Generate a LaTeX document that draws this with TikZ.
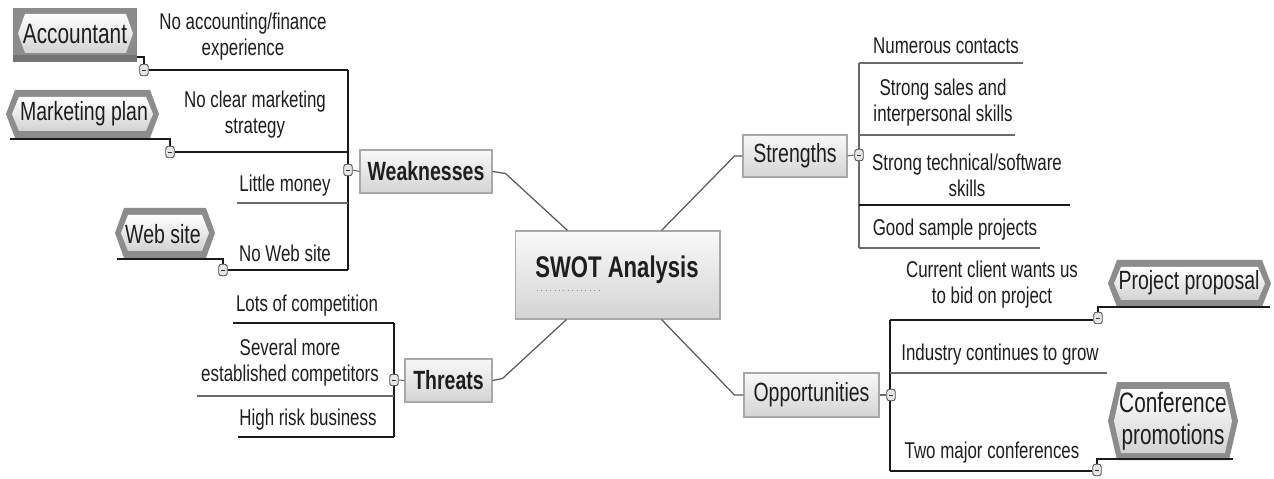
\documentclass[tikz,border=0pt]{standalone}
\usepackage{fontspec}
\setmainfont{Liberation Sans}[FakeStretch=0.74]
\usetikzlibrary{calc}
\definecolor{ink}{HTML}{1E1E1E}
\definecolor{dkline}{HTML}{1A1A1A}
\definecolor{ltline}{HTML}{6A6A6A}
\definecolor{boxedge}{HTML}{A8A8A8}
\definecolor{boxtop}{HTML}{F8F8F8}
\definecolor{boxbot}{HTML}{D4D4D4}
\definecolor{cframe}{HTML}{8C8C8C}
\definecolor{cinner}{HTML}{D2D2D2}
\definecolor{knobfill}{HTML}{E6E6E6}

% hexagonal label plate with pointed left and right ends
\newcommand\hexplate[6]{%
  \pgfmathsetmacro\ymid{(#2+#4)/2}%
  \path[#6] (#1+#5,#2) -- (#3-#5,#2) -- (#3,\ymid) -- (#3-#5,#4)
            -- (#1+#5,#4) -- (#1,\ymid) -- cycle;}

\begin{document}
\begin{tikzpicture}[x=0.02cm,y=-0.02cm,
  every node/.style={text=ink, inner sep=0pt},
  item/.style={align=center, font=\fontsize{13}{14.7}\selectfont},
  topic/.style={draw=boxedge, line width=0.6pt, top color=boxtop, bottom color=boxbot,
                font=\fontsize{15}{17}\selectfont},
  call/.style={align=center, font=\fontsize{15}{18}\selectfont},
  bigcall/.style={align=center, font=\fontsize{16}{18}\selectfont},
  knob/.style={draw=black!70, fill=knobfill, rounded corners=1.5pt, line width=0.5pt,
               minimum width=0.17cm, minimum height=0.23cm,
               path picture={\draw[black!80, line width=0.5pt]
                 ([xshift=-1.4pt]path picture bounding box.center) --
                 ([xshift=1.4pt]path picture bounding box.center);}},
  dk/.style={draw=dkline, line width=1.1pt},
  lt/.style={draw=ltline, line width=0.6pt},
  branch/.style={draw=black!65, line width=0.7pt},
  frame/.style={fill=cframe},
  plate/.style={top color=white, bottom color=cinner},
]
\useasboundingbox[fill=white] (0,0) rectangle (1274,479);

% ---------- central topic ----------
\node[topic, minimum width=4.10cm, minimum height=1.76cm] (C) at (617.5,275) {};
\node[font=\fontsize{17}{20}\selectfont\bfseries] (Ct) at (617,270) {SWOT Analysis};
\draw[black!45, line width=0.5pt, dotted] (537,290) -- (602,290);

% ---------- main topics ----------
\node[topic, font=\fontsize{15}{17}\selectfont\bfseries, minimum width=2.64cm, minimum height=0.86cm] (W) at (426,171.5) {Weaknesses};
\node[topic, font=\fontsize{15}{17}\selectfont\bfseries, minimum width=1.74cm, minimum height=0.86cm] (T) at (448.5,380.5) {Threats};
\node[topic, minimum width=2.08cm, minimum height=0.84cm] (S) at (795,156) {Strengths};
\node[topic, minimum width=2.70cm, minimum height=0.88cm] (O) at (811.5,395) {Opportunities};

\draw[branch] (W.east) -- ++(13,2) -- ($(C.north west)+(53,0)$);
\draw[branch] (S.west) -- ++(-8,0) -- ($(C.north west)+(147,0)$);
\draw[branch] (T.east) -- ++(10,-2) -- ($(C.south west)+(52,0)$);
\draw[branch] (O.west) -- ++(-9,0) -- ($(C.south west)+(147,0)$);

% ---------- Weaknesses ----------
\coordinate (wa) at (348,70);
\coordinate (wb) at (348,152);
\coordinate (wc) at (348,203);
\coordinate (wd) at (348,270);
\draw[dk] (wa) -- (wd);
\node[knob] (kW) at (348,170) {};
\draw[lt] (kW.east) -- (W.west);

\node[item] (w1) at (243,37) {No accounting/finance\\experience};
\node[item] (w2) at (255,115) {No clear marketing\\strategy};
\node[item] (w3) at (285,186) {Little money};
\node[item] (w4) at (285,253) {No Web site};

\node[knob] (kA) at (144,70) {};
\node[knob] (kM) at (170,152) {};
\node[knob] (kWb) at (223,270) {};
\draw[dk] (kA.east) -- (wa);
\draw[dk] (kM.east) -- (wb);
\draw[lt] (237,203) -- (wc);
\draw[dk] (kWb.east) -- (wd);

% callout plates
\fill[cframe] (13,8) rectangle (137,62);
\fill[black!55] (13,55) rectangle (137,62);
\hexplate{18}{14}{133}{53}{7}{plate}
\node[bigcall] (acc) at (75,34) {Accountant};
\draw[dk] (137,57) -| (kA.north);

\hexplate{6}{90}{159}{138}{9}{frame}
\hexplate{12}{97}{153}{131}{7}{plate}
\node[call] (mkt) at (84,114) {Marketing plan};
\draw[dk] (10,139) -| (kM.north);

\hexplate{115}{208}{215}{258}{9}{frame}
\hexplate{121}{215}{209}{251}{7}{plate}
\node[call] (web) at (163,234) {Web site};
\draw[dk] (117,259) -| (kWb.north);

% ---------- Threats ----------
\coordinate (ta) at (394,323);
\coordinate (tb) at (394,396);
\coordinate (tc) at (394,437);
\draw[dk] (ta) -- (tc);
\node[knob] (kT) at (394,380) {};
\draw[lt] (kT.east) -- (T.west);

\node[item] (t1) at (307,306) {Lots of competition};
\node[item] (t2) at (290,363) {Several more\\established competitors};
\node[item] (t3) at (308,420) {High risk business};
\draw[dk] (233,323) -- (ta);
\draw[lt] (197,396) -- (tb);
\draw[dk] (238,437) -- (tc);

% ---------- Strengths ----------
\coordinate (sa) at (859,63);
\coordinate (sb) at (859,135);
\coordinate (sc) at (859,205);
\coordinate (sd) at (859,248);
\draw[lt] (sa) -- (sd);
\node[knob] (kS) at (859,155) {};
\draw[lt] (S.east) -- (kS.west);

\node[item] (s1) at (946,46) {Numerous contacts};
\node[item] (s2) at (943,103) {Strong sales and\\interpersonal skills};
\node[item] (s3) at (967,175) {Strong technical/software\\skills};
\node[item] (s4) at (955,230) {Good sample projects};
\draw[lt] (sa) -- (1023,63);
\draw[lt] (sb) -- (1015,135);
\draw[dk] (sc) -- (1070,205);
\draw[lt] (sd) -- (1040,248);

% ---------- Opportunities ----------
\coordinate (oa) at (890,320);
\coordinate (ob) at (890,373);
\coordinate (oc) at (890,471);
\draw[dk] (oa) -- (oc);
\node[knob] (kO) at (891,395) {};
\draw[lt] (O.east) -- (kO.west);

\node[item] (o1) at (992,285) {Current client wants us\\to bid on project};
\node[item] (o2) at (1000,355) {Industry continues to grow};
\node[item] (o3) at (992,453) {Two major conferences};

\node[knob] (kP) at (1098,318) {};
\node[knob] (kC) at (1097,470) {};
\draw[dk] (oa) -- (kP.west |- oa);
\draw[lt] (ob) -- (1107,373);
\draw[dk] (oc) -- (kC.west |- oc);

\hexplate{1108}{260}{1271}{307}{9}{frame}
\hexplate{1114}{267}{1265}{300}{7}{plate}
\node[call] (prop) at (1189,283) {Project proposal};
\draw[dk] (1270,307) -| (kP.north);

\hexplate{1108}{382}{1238}{460}{9}{frame}
\hexplate{1114}{389}{1232}{453}{7}{plate}
\node[bigcall] (conf) at (1173,421) {Conference\\promotions};
\draw[dk] (1233,459) -| (kC.north);
\end{tikzpicture}
\end{document}
